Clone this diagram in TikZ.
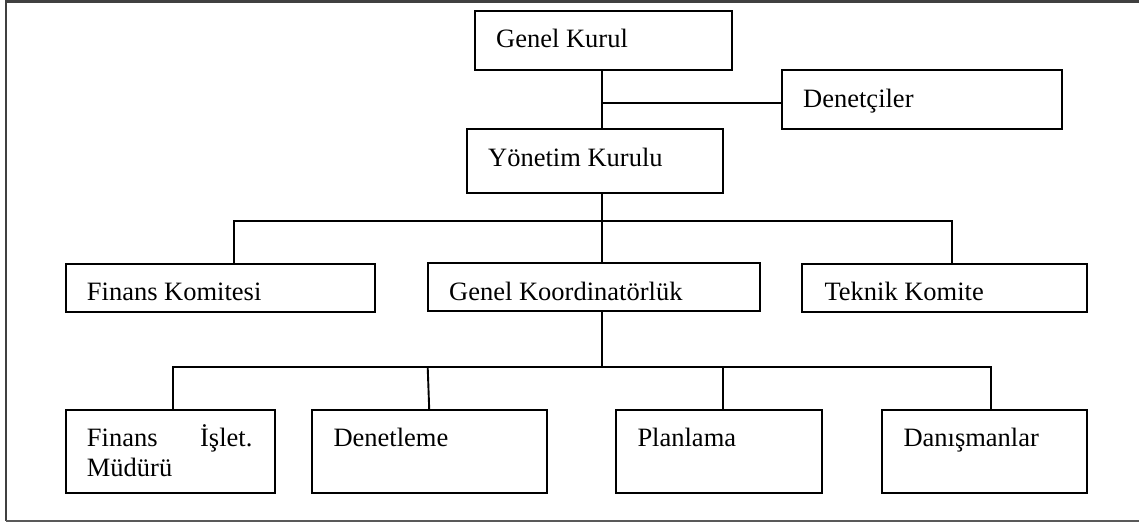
\documentclass[tikz,border=0pt]{standalone}
\usepackage{fontspec}
\setmainfont{Liberation Serif}
\tikzset{
  unit/.style={draw=black, line width=2.1pt, inner sep=0pt, fill=white},
  lbl/.style={anchor=base west, inner sep=0pt, font=\fontsize{26.5}{30}\selectfont},
  link/.style={draw=black, line width=1.9pt},
  frameline/.style={draw=black!75, line width=2.2pt}
}
\begin{document}
\begin{tikzpicture}[x=1pt,y=-1pt]
\useasboundingbox (0,0) rectangle (1139,522);

% page frame (open on the right)
\draw[frameline] (1139,1.5) -- (6,1.5) -- (6,520.8);
\draw[draw=black!65, line width=1.4pt] (6,520.8) -- (1139,520.8);

% boxes
\node[unit, minimum width=257pt,   minimum height=59pt]   (gk)  at (603.5,40.5)   {};
\node[unit, minimum width=279.7pt, minimum height=59.3pt] (den) at (921.85,99.65) {};
\node[unit, minimum width=256.6pt, minimum height=64pt]   (yk)  at (595,161)      {};
\node[unit, minimum width=309.3pt, minimum height=47.7pt] (fk)  at (220.35,287.85) {};
\node[unit, minimum width=332.6pt, minimum height=48pt]   (gko) at (594,287.3)    {};
\node[unit, minimum width=285pt,   minimum height=47.7pt] (tk)  at (944.8,287.85) {};
\node[unit, minimum width=209.3pt, minimum height=82.7pt] (fim) at (170.35,451.35) {};
\node[unit, minimum width=235pt,   minimum height=82.7pt] (dn)  at (429.2,451.35) {};
\node[unit, minimum width=205.7pt, minimum height=82.7pt] (pl)  at (718.85,451.35) {};
\node[unit, minimum width=205.6pt, minimum height=82.7pt] (da)  at (984.5,451.35) {};

% labels
\node[lbl] (t-gk)  at (496,47)    {Genel Kurul};
\node[lbl] (t-den) at (803,107)   {Denetçiler};
\node[lbl] (t-yk)  at (488,166)   {Yönetim Kurulu};
\node[lbl] (t-fk)  at (86.7,300)  {Finans Komitesi};
\node[lbl] (t-gko) at (449,300)   {Genel Koordinatörlük};
\node[lbl] (t-tk)  at (824.3,300) {Teknik Komite};
\node[lbl] (t-fim1) at (86.7,446) {\makebox[165.5pt][s]{Finans İşlet.}};
\node[lbl] (t-fim2) at (86.7,476) {Müdürü};
\node[lbl] (t-dn)  at (333.3,446) {Denetleme};
\node[lbl] (t-pl)  at (637.3,446) {Planlama};
\node[lbl] (t-da)  at (903.3,446) {Danışmanlar};

% junction points
\coordinate (j1)  at (601.7,103.3);
\coordinate (b1)  at (601.7,221.3);
\coordinate (b1l) at (234.3,221.3);
\coordinate (b1r) at (952.3,221.3);
\coordinate (b2)  at (601.7,367.3);
\coordinate (b2l) at (173,367.3);
\coordinate (b2r) at (991,367.3);
\coordinate (b2d) at (427.7,367.3);
\coordinate (b2p) at (723.3,367.3);

% connectors
\draw[link] (gk.south -| j1) -- (yk.north -| j1);
\draw[link] (j1) -- (j1 -| den.west);
\draw[link] (yk.south -| b1) -- (gko.north -| b1);
\draw[link] (fk.north -| b1l) -- (b1l) -- (b1r) -- (tk.north -| b1r);
\draw[link] (gko.south -| b2) -- (b2);
\draw[link] (fim.north -| b2l) -- (b2l) -- (b2r) -- (da.north -| b2r);
\draw[link] (b2d) -- (dn.north);
\draw[link] (b2p) -- (pl.north -| b2p);
\end{tikzpicture}
\end{document}
